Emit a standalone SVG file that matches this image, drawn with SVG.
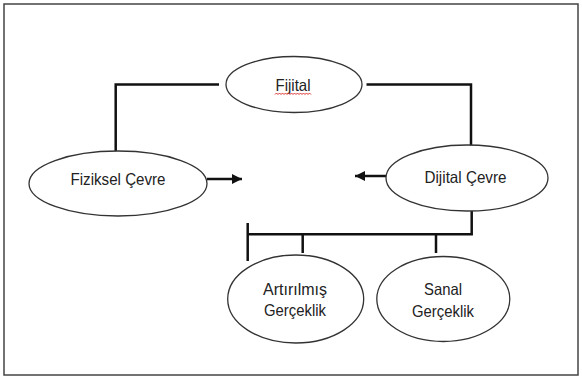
<svg xmlns="http://www.w3.org/2000/svg" width="582" height="378" viewBox="0 0 582 378">
<style>
.node ellipse{fill:#fff;stroke:#333;stroke-width:1.3}
.node text{font-family:"Liberation Sans",Arial,sans-serif;font-size:16.5px;fill:#222;text-anchor:middle}
.conn{fill:none;stroke:#111;stroke-width:2.5;stroke-linecap:butt}
</style>
<defs>
<marker id="ah" viewBox="0 0 10 10" refX="10" refY="5" markerWidth="4" markerHeight="4.4" orient="auto" markerUnits="strokeWidth">
<path d="M0,0 L10,5 L0,10 z" fill="#111"/>
</marker>
</defs>
<rect x="4" y="4" width="574" height="371" fill="#fff" stroke="#444" stroke-width="1.5"/>
<g id="connectors">
<path class="conn" d="M219,84.5 H115.7 V151"/>
<path class="conn" d="M366.5,84.5 H471 V146"/>
<path class="conn" d="M207,179 H242" marker-end="url(#ah)"/>
<path class="conn" d="M387,176 H355" marker-end="url(#ah)"/>
<path class="conn" d="M471.7,211 V234.3 H247.7"/>
<path class="conn" d="M247.7,223 V261"/>
<path class="conn" d="M302.7,234.3 V253"/>
<path class="conn" d="M436,234.3 V253"/>
</g>
<g id="fijital" class="node">
<ellipse cx="294" cy="84.5" rx="68" ry="28"/>
<text x="293" y="91" textLength="35" lengthAdjust="spacingAndGlyphs">Fijital</text>
<path d="M275,94.5 l1.5,-1.5 l1.5,1.5 l1.5,-1.5 l1.5,1.5 l1.5,-1.5 l1.5,1.5 l1.5,-1.5 l1.5,1.5 l1.5,-1.5 l1.5,1.5 l1.5,-1.5 l1.5,1.5 l1.5,-1.5 l1.5,1.5 l1.5,-1.5 l1.5,1.5 l1.5,-1.5 l1.5,1.5 l1.5,-1.5 l1.5,1.5 l1.5,-1.5 l1.5,1.5 l1.5,-1.5 l1.5,1.5" fill="none" stroke="#e03030" stroke-width="1"/>
</g>
<g id="fiziksel" class="node">
<ellipse cx="118" cy="183.5" rx="89" ry="32.5"/>
<text x="118" y="185" textLength="95" lengthAdjust="spacingAndGlyphs">Fiziksel Çevre</text>
</g>
<g id="dijital" class="node">
<ellipse cx="467" cy="178" rx="81" ry="33"/>
<text x="465.5" y="182.5" textLength="82" lengthAdjust="spacingAndGlyphs">Dijital Çevre</text>
</g>
<g id="artirilmis" class="node">
<ellipse cx="295.7" cy="299" rx="68" ry="44"/>
<text x="295" y="294.5" textLength="64" lengthAdjust="spacingAndGlyphs">Artırılmış</text>
<text x="295" y="315.5" textLength="62" lengthAdjust="spacingAndGlyphs">Gerçeklik</text>
</g>
<g id="sanal" class="node">
<ellipse cx="443.3" cy="299" rx="66.5" ry="42.5"/>
<text x="443" y="295" textLength="38" lengthAdjust="spacingAndGlyphs">Sanal</text>
<text x="443" y="316.5" textLength="62" lengthAdjust="spacingAndGlyphs">Gerçeklik</text>
</g>
</svg>
